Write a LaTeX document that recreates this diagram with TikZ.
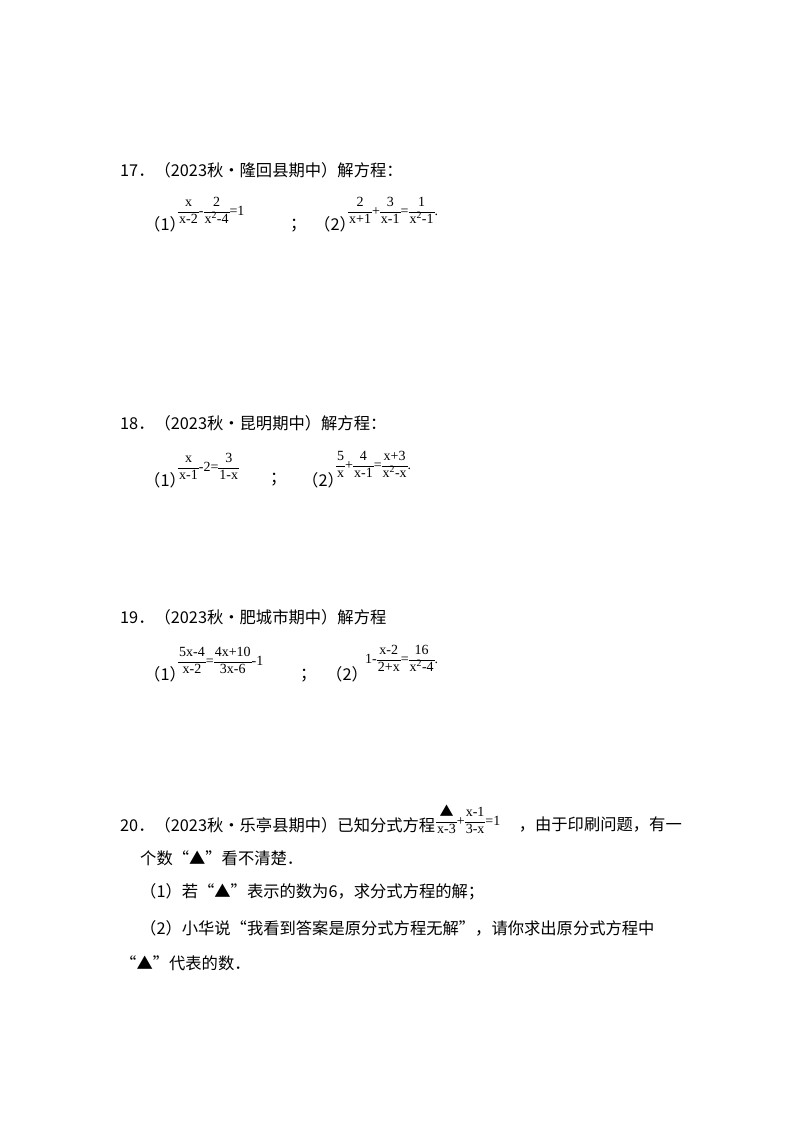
\documentclass[tikz,border=0pt]{standalone}
\usepackage{fontspec}
\setmainfont{Liberation Serif}
\newfontfamily\cjk{Noto Sans CJK SC}
\newcommand{\fr}[2]{{\renewcommand{\arraystretch}{1.05}\setlength{\tabcolsep}{1pt}\begin{tabular}{c}#1\\\hline #2\end{tabular}}}
\newcommand{\sq}{\textsuperscript{2}}
\begin{document}
\begin{tikzpicture}[x=1pt,y=-1pt,
  txt/.style={anchor=west,inner sep=0pt,font=\fontsize{16.3}{19}\selectfont\cjk},
  eq/.style={anchor=west,inner sep=0pt,font=\fontsize{14}{16}\selectfont}]
\useasboundingbox (0,0) rectangle (800,1132);
% 17
\node[txt] (t17) at (120,170) {17．（2023秋•隆回县期中）解方程：};
\node[txt] (a17) at (144,224) {（1）};
\node[eq] (e17a) at (178,212) {\fr{x}{x-2}-\fr{2}{x\sq-4}=1};
\node[txt] (s17) at (290,226) {；};
\node[txt] (b17) at (314,224) {（2）};
\node[eq] (e17b) at (348,212) {\fr{2}{x+1}+\fr{3}{x-1}=\fr{1}{x\sq-1}.};
% 18
\node[txt] (t18) at (120,423) {18．（2023秋•昆明期中）解方程：};
\node[txt] (a18) at (144,480) {（1）};
\node[eq] (e18a) at (178,468) {\fr{x}{x-1}-2=\fr{3}{1-x}};
\node[txt] (s18) at (270,480) {；};
\node[txt] (b18) at (302,480) {（2）};
\node[eq] (e18b) at (336,466) {\fr{5}{x}+\fr{4}{x-1}=\fr{x+3}{x\sq-x}.};
% 19
\node[txt] (t19) at (120,617) {19．（2023秋•肥城市期中）解方程};
\node[txt] (a19) at (144,674) {（1）};
\node[eq] (e19a) at (178,662) {\fr{5x-4}{x-2}=\fr{4x+10}{3x-6}-1};
\node[txt] (s19) at (300,676) {；};
\node[txt] (b19) at (326,674) {（2）};
\node[eq] (e19b) at (365,660) {1-\fr{x-2}{2+x}=\fr{16}{x\sq-4}.};
% 20
\node[txt] (t20) at (120,825) {20．（2023秋•乐亭县期中）已知分式方程};
\node[eq] (e20) at (436,822) {\fr{\cjk ▲}{x-3}+\fr{x-1}{3-x}=1};
\node[txt,anchor=east] (t20b) at (682,825) {，由于印刷问题，有一};
\node[txt] (l2) at (140,858) {个数“▲”看不清楚．};
\node[txt] (l3) at (140,892) {（1）若“▲”表示的数为6，求分式方程的解；};
\node[txt] (l4) at (140,928) {（2）小华说“我看到答案是原分式方程无解”，请你求出原分式方程中};
\node[txt] (l5) at (120,963) {“▲”代表的数．};
\end{tikzpicture}
\end{document}
